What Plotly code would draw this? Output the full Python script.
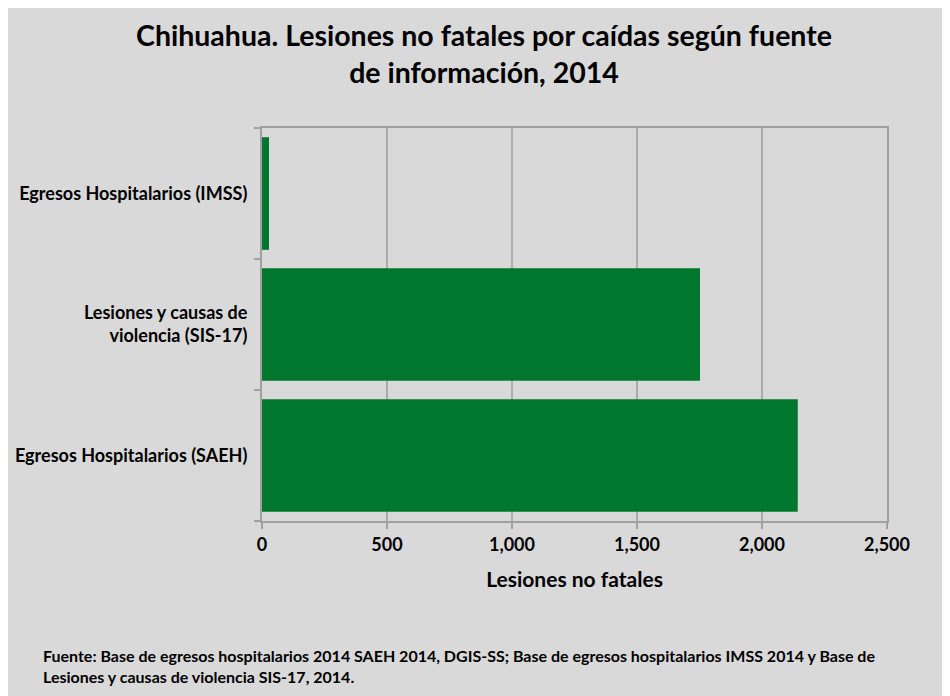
import plotly.graph_objects as go

# data
categorias = [
    "Egresos Hospitalarios (SAEH)",
    "Lesiones y causas de<br>violencia (SIS-17)",
    "Egresos Hospitalarios (IMSS)",
]
lesiones = [2143, 1752, 28]
ticks_x = [0, 500, 1000, 1500, 2000, 2500]
ticks_x_txt = ["0", "500", "1,000", "1,500", "2,000", "2,500"]

W, H = 950, 696
# page shows the figure offset by the 8px body margin
L, R, T, B = 254, 71, 120, 183
pw, ph = W - L - R, H - T - B

VERDE = "#00772d"
GRIS = "#d9d9d9"
FONT = "Lato"

fig = go.Figure()
fig.add_trace(go.Bar(
    x=lesiones, y=categorias, orientation="h",
    marker=dict(color=VERDE, line=dict(width=0)),
    hoverinfo="x+y",
))

fig.update_layout(
    width=W, height=H,
    margin=dict(l=L, r=R, t=T, b=B),
    paper_bgcolor=GRIS, plot_bgcolor=GRIS,
    bargap=0.14, showlegend=False,
    font=dict(family=FONT, color="black"),
    title=dict(
        text="<b>Chihuahua. Lesiones no fatales por caídas según fuente<br>de información, 2014</b>",
        x=476 / W, xanchor="center", y=1 - 38 / H, yanchor="middle",
        font=dict(size=28.5, family=FONT, color="black"),
    ),
)

fig.update_xaxes(
    range=[0, 2500], tickvals=ticks_x, ticktext=["<b>%s</b>" % t for t in ticks_x_txt],
    showgrid=True, gridcolor="#ababab", gridwidth=1.5,
    showline=True, linecolor="#a0a0a0", linewidth=2, mirror=True,
    ticks="outside", ticklen=6, tickcolor="#a0a0a0", tickwidth=1.5,
    tickfont=dict(size=18, family=FONT), zeroline=False, automargin=False,
    title=dict(text="<b>Lesiones no fatales</b>", font=dict(size=21, family=FONT), standoff=19),
)
fig.update_yaxes(
    categoryorder="array", categoryarray=categorias,
    ticktext=["<b>%s</b>" % c for c in categorias], tickvals=categorias,
    showline=True, linecolor="#a0a0a0", linewidth=2, mirror=True,
    ticks="outside", ticklen=6, tickcolor="#a0a0a0", tickwidth=1.5,
    tickson="boundaries", showgrid=False, ticklabelstandoff=9, automargin=False,
    tickfont=dict(size=18, family=FONT),
)

fig.add_annotation(
    xref="paper", yref="paper", x=(33 - L) / pw, y=-(636 - (T + ph)) / ph,
    xanchor="left", yanchor="top", align="left", showarrow=False,
    text="<b>Fuente: Base de egresos hospitalarios 2014 SAEH 2014, DGIS-SS; Base de egresos hospitalarios IMSS 2014 y Base de<br>Lesiones y causas de violencia SIS-17, 2014.</b>",
    font=dict(size=16, family=FONT, color="black"),
)

fig.write_html("out.html")
